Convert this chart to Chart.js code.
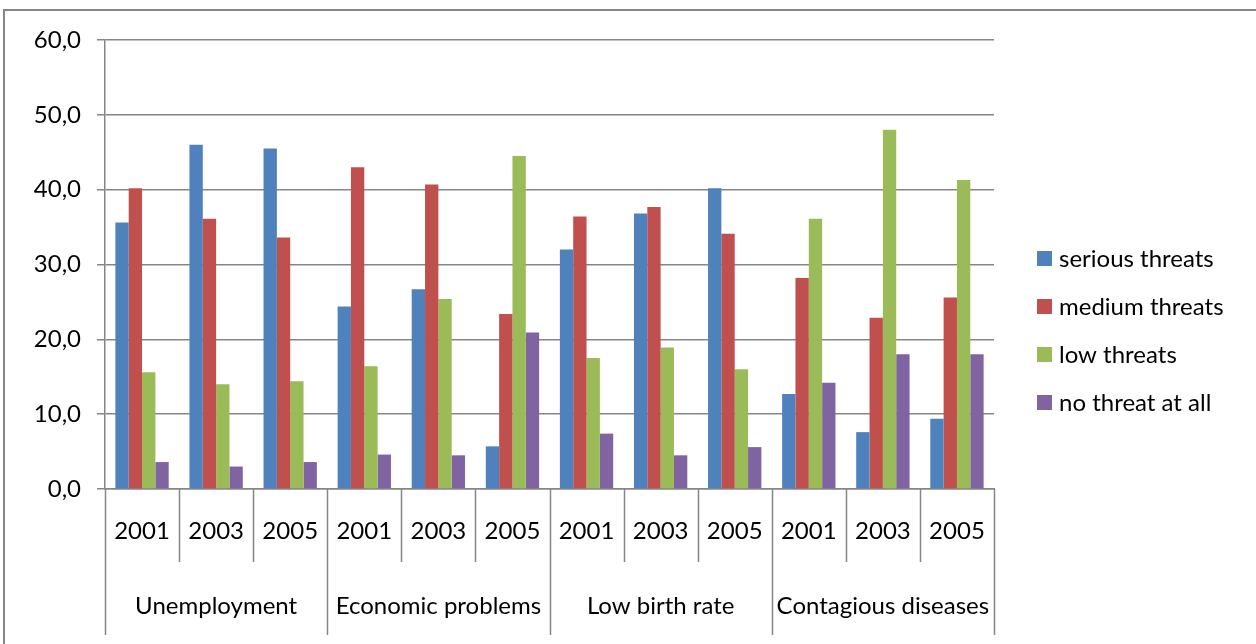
<!DOCTYPE html>
<html>
<head>
<meta charset="utf-8">
<script src="https://cdn.jsdelivr.net/npm/chart.js@4/dist/chart.umd.min.js"></script>
<style>
    html, body { margin: 0; padding: 0; background: #fff; }
    #wrap { width: 1256px; height: 644px; position: relative; }
</style>
</head>
<body>
<div id="wrap"><canvas id="chart"></canvas></div>
<script>
const groups = ['Unemployment', 'Economic problems', 'Low birth rate', 'Contagious diseases'];
const years = ['2001', '2003', '2005'];
const yTicks = [0, 10, 20, 30, 40, 50, 60];

const serious = [35.6, 46.0, 45.5, 24.4, 26.7, 5.7, 32.0, 36.8, 40.2, 12.7, 7.6, 9.4];
const medium  = [40.2, 36.1, 33.6, 43.0, 40.7, 23.4, 36.4, 37.7, 34.1, 28.2, 22.9, 25.6];
const low     = [15.6, 14.0, 14.4, 16.4, 25.4, 44.5, 17.5, 18.9, 16.0, 36.1, 48.0, 41.3];
const noneAt  = [3.6, 3.0, 3.6, 4.6, 4.5, 20.9, 7.4, 4.5, 5.6, 14.2, 18.0, 18.0];

const FONT = 'Lato, "Open Sans", sans-serif';
const FSIZE = 24;
const LINE = '#868686';

// one label per bar cluster: the year, repeated for every group
const labels = [];
groups.forEach(() => years.forEach(y => labels.push(y)));

// frame, category dividers, group names and the legend on the right
const groupAxis = {
    id: 'groupAxis',
    beforeDraw(chart) {
        const ctx = chart.ctx;
        ctx.save();
        ctx.strokeStyle = LINE;
        ctx.lineWidth = 2;
        ctx.beginPath();
        ctx.moveTo(4, chart.height);
        ctx.lineTo(4, 10);
        ctx.lineTo(chart.width, 10);
        ctx.stroke();
        ctx.restore();
    },
    afterDraw(chart) {
        const ctx = chart.ctx;
        const x = chart.scales.x;
        const area = chart.chartArea;
        const bottom = area.bottom;
        const step = x.getPixelForValue(1) - x.getPixelForValue(0);
        ctx.save();
        ctx.strokeStyle = LINE;
        ctx.lineWidth = 1.5;
        for (let i = 0; i <= labels.length; i++) {
            const px = Math.round(x.getPixelForValue(0) - step / 2 + i * step) + 0.5;
            const len = i % years.length === 0 ? 146 : 73;
            ctx.beginPath();
            ctx.moveTo(px, bottom);
            ctx.lineTo(px, bottom + len);
            ctx.stroke();
        }
        ctx.fillStyle = '#000';
        ctx.font = FSIZE + 'px ' + FONT;
        ctx.textAlign = 'center';
        ctx.textBaseline = 'middle';
        groups.forEach((g, gi) => {
            const a = x.getPixelForValue(gi * years.length);
            const b = x.getPixelForValue(gi * years.length + years.length - 1);
            ctx.fillText(g, (a + b) / 2, bottom + 117);
        });

        // legend
        ctx.textAlign = 'left';
        const lx = area.right + 43;
        chart.data.datasets.forEach((ds, i) => {
            const cy = 258 + i * 48.2;
            ctx.fillStyle = ds.backgroundColor;
            ctx.fillRect(lx, Math.round(cy - 7.5), 15, 15);
            ctx.fillStyle = '#000';
            ctx.fillText(ds.label, lx + 22, cy + 1);
        });
        ctx.restore();
    }
};

new Chart(document.getElementById('chart'), {
    type: 'bar',
    data: {
        labels: labels,
        datasets: [
            { label: 'serious threats', data: serious, backgroundColor: '#4F81BD' },
            { label: 'medium threats', data: medium, backgroundColor: '#C0504D' },
            { label: 'low threats', data: low, backgroundColor: '#9BBB59' },
            { label: 'no threat at all', data: noneAt, backgroundColor: '#8064A2' }
        ]
    },
    options: {
        responsive: true,
        maintainAspectRatio: false,
        animation: false,
        layout: { padding: { top: 40, right: 262, bottom: 0, left: 0 } },
        datasets: {
            bar: { categoryPercentage: 0.72, barPercentage: 1.0 }
        },
        scales: {
            x: {
                grid: { display: false, drawTicks: false },
                border: { display: true, color: LINE, width: 1.5 },
                ticks: { color: '#000', font: { family: FONT, size: FSIZE }, padding: 28, maxRotation: 0, autoSkip: false },
                afterFit(scale) { scale.height = 155; }
            },
            y: {
                min: 0,
                max: 60,
                afterBuildTicks(scale) { scale.ticks = yTicks.map(v => ({ value: v })); },
                grid: { color: LINE, lineWidth: 1.5, tickLength: 8 },
                border: { display: true, color: LINE, width: 1.5 },
                ticks: {
                    color: '#000',
                    font: { family: FONT, size: FSIZE },
                    padding: 16,
                    callback: v => v.toFixed(1).replace('.', ',')
                },
                afterFit(scale) { scale.width = 105; }
            }
        },
        plugins: {
            legend: { display: false },
            tooltip: { enabled: false }
        }
    },
    plugins: [groupAxis]
});
</script>
</body>
</html>
